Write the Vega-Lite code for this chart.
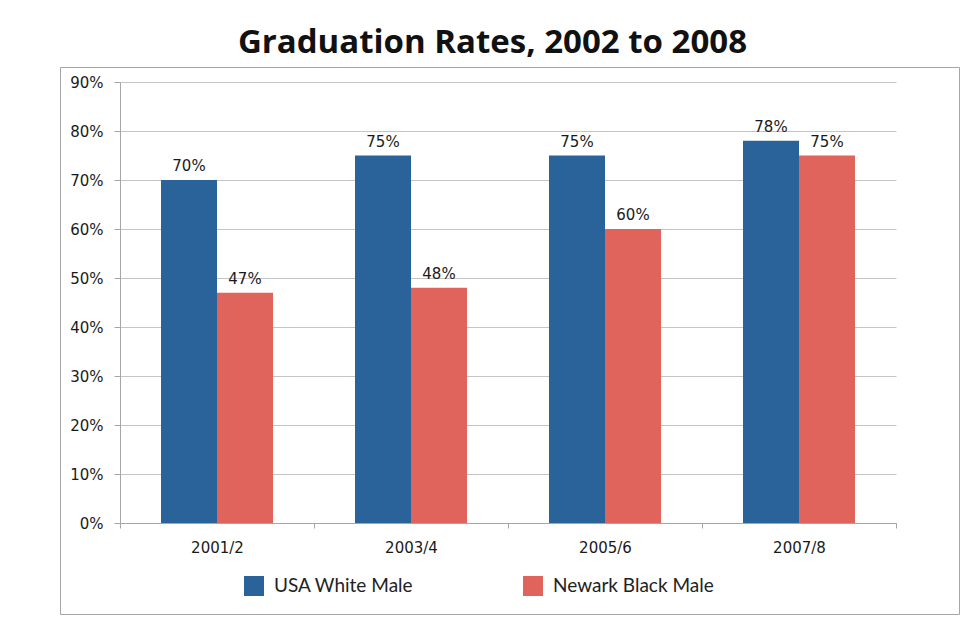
{
  "$schema": "https://vega.github.io/schema/vega-lite/v6.json",
  "autosize": {"type": "none"},
  "width": 899,
  "height": 547,
  "padding": {"left": 60, "top": 67, "right": 5, "bottom": 19},
  "background": "white",
  "title": {
    "text": "Graduation Rates, 2002 to 2008",
    "font": "Open Sans",
    "fontWeight": "bold",
    "fontSize": 33,
    "color": "#111111",
    "anchor": "middle",
    "dx": -17,
    "offset": 7
  },
  "data": {
    "values": [
      {"period": "2001/2", "group": "USA White Male", "rate": 0.70},
      {"period": "2001/2", "group": "Newark Black Male", "rate": 0.47},
      {"period": "2003/4", "group": "USA White Male", "rate": 0.75},
      {"period": "2003/4", "group": "Newark Black Male", "rate": 0.48},
      {"period": "2005/6", "group": "USA White Male", "rate": 0.75},
      {"period": "2005/6", "group": "Newark Black Male", "rate": 0.60},
      {"period": "2007/8", "group": "USA White Male", "rate": 0.78},
      {"period": "2007/8", "group": "Newark Black Male", "rate": 0.75}
    ]
  },
  "encoding": {
    "x": {
      "field": "period",
      "type": "nominal",
      "sort": ["2001/2", "2003/4", "2005/6", "2007/8"],
      "scale": {"range": [60, 836], "paddingInner": 0, "paddingOuter": 0},
      "axis": {
        "title": null,
        "orient": "bottom",
        "offset": -91,
        "labelAngle": 0,
        "tickBand": "extent",
        "tickSize": 5,
        "tickColor": "#a6a6a6",
        "domainColor": "#a6a6a6",
        "labelFont": "DejaVu Sans",
        "labelFontSize": 15,
        "labelColor": "#1a1a1a",
        "labelPadding": 12,
        "grid": false
      }
    },
    "xOffset": {
      "field": "group",
      "type": "nominal",
      "sort": ["USA White Male", "Newark Black Male"],
      "scale": {"paddingInner": 0, "paddingOuter": 0.732}
    },
    "y": {
      "field": "rate",
      "type": "quantitative",
      "scale": {"domain": [0, 0.9], "range": [456, 15], "nice": false, "zero": true},
      "axis": {
        "title": null,
        "orient": "left",
        "offset": -60,
        "format": ".0%",
        "values": [0, 0.1, 0.2, 0.3, 0.4, 0.5, 0.6, 0.7, 0.8, 0.9],
        "tickSize": 6,
        "tickColor": "#a6a6a6",
        "domainColor": "#a6a6a6",
        "gridColor": "#c4c4c4",
        "grid": true,
        "labelFont": "DejaVu Sans",
        "labelFontSize": 15,
        "labelColor": "#1a1a1a",
        "labelPadding": 11
      }
    }
  },
  "layer": [
    {
      "mark": {"type": "bar"},
      "encoding": {
        "color": {
          "field": "group",
          "type": "nominal",
          "sort": ["USA White Male", "Newark Black Male"],
          "scale": {"domain": ["USA White Male", "Newark Black Male"], "range": ["#2A6399", "#E0645B"]},
          "legend": {
            "title": null,
            "orient": "none",
            "direction": "horizontal",
            "legendX": 184,
            "legendY": 509,
            "padding": 0,
            "symbolType": "square",
            "symbolSize": 400,
            "symbolStrokeWidth": 0,
            "symbolOpacity": 1,
            "labelOffset": 10,
            "columnPadding": 109,
            "labelFont": "Lato",
            "labelFontSize": 19,
            "labelColor": "#222222",
            "labelLimit": 300
          }
        }
      }
    },
    {
      "mark": {"type": "text", "baseline": "bottom", "dy": -6, "font": "DejaVu Sans", "fontSize": 15, "color": "#1a1a1a"},
      "encoding": {
        "text": {"field": "rate", "type": "quantitative", "format": ".0%"}
      }
    }
  ],
  "config": {
    "view": {"stroke": "#a6a6a6", "strokeWidth": 1},
    "axis": {"gridWidth": 1}
  }
}
